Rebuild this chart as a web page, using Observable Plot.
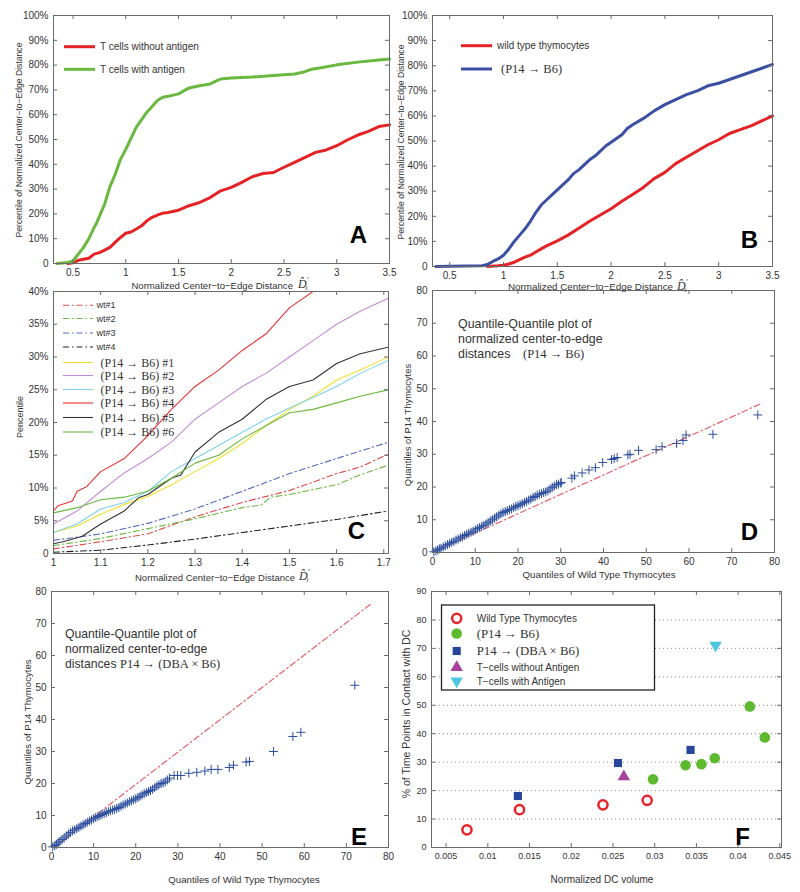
<!DOCTYPE html>
<html><head><meta charset="utf-8">
<script src="https://cdn.jsdelivr.net/npm/d3@7"></script>
<script src="https://cdn.jsdelivr.net/npm/@observablehq/plot@0.6"></script>
<style>
body{margin:0;background:#fff;}
#root{position:relative;width:800px;height:892px;overflow:hidden;background:#fff;}
#root svg{position:absolute;overflow:visible;background:transparent;}
</style></head><body><div id="root"></div>
<script>
// ---------- Panel A: cumulative curves ----------
const aWithout = [[0.45,0],[0.5,0.3],[0.55,1.3],[0.6,1.7],[0.65,2.1],[0.7,3.8],[0.75,4.4],[0.8,5.4],[0.85,6.5],[0.9,8.5],[0.95,10.5],[1.0,12.2],[1.05,12.7],[1.1,13.9],[1.15,15.2],[1.2,17.2],[1.25,18.6],[1.3,19.5],[1.35,20.3],[1.4,20.6],[1.5,21.5],[1.6,23.3],[1.7,24.6],[1.8,26.6],[1.9,29.3],[2.0,30.7],[2.1,32.7],[2.2,35],[2.3,36.3],[2.4,36.7],[2.5,38.8],[2.6,40.8],[2.7,42.8],[2.8,44.8],[2.9,45.8],[3.0,47.5],[3.1,49.8],[3.2,51.8],[3.3,53.3],[3.4,55.2],[3.5,55.9]];
const aWith = [[0.35,0],[0.45,0.4],[0.5,1],[0.55,3.8],[0.6,6.5],[0.65,10],[0.7,14.5],[0.72,16],[0.75,19],[0.8,24],[0.85,31],[0.9,36],[0.95,42],[1.0,46],[1.05,50.5],[1.1,55],[1.15,58],[1.2,61],[1.25,63.3],[1.3,65.7],[1.35,67],[1.4,67.4],[1.5,68.4],[1.6,70.8],[1.7,71.7],[1.8,72.4],[1.85,73.4],[1.9,74.4],[2.0,74.8],[2.2,75.2],[2.4,75.8],[2.6,76.4],[2.68,77.1],[2.75,78.2],[2.85,78.9],[3.0,80.1],[3.2,81.2],[3.4,82.1],[3.5,82.5]];
// ---------- Panel B ----------
const bWild = [[0.85,0],[0.95,0.3],[1.0,0.5],[1.05,1],[1.1,1.7],[1.15,2.7],[1.2,3.7],[1.25,4.5],[1.3,5.8],[1.35,7],[1.4,8.2],[1.5,10.2],[1.6,12.5],[1.7,15.2],[1.8,18],[1.9,20.5],[2.0,23],[2.1,26],[2.2,28.7],[2.3,31.5],[2.4,35],[2.5,37.5],[2.6,41],[2.7,43.5],[2.8,46],[2.9,48.5],[3.0,50.5],[3.1,53],[3.2,54.5],[3.3,56],[3.4,58],[3.5,60]];
const bP14 = [[0.37,0],[0.8,0.3],[0.85,0.8],[0.9,2],[0.95,3],[1.0,4.5],[1.05,7],[1.1,10],[1.15,12.5],[1.2,15],[1.25,18],[1.3,21.5],[1.35,24.5],[1.4,26.5],[1.45,28.5],[1.5,30.5],[1.55,32.5],[1.6,34.5],[1.65,37],[1.7,38.5],[1.75,40.5],[1.8,42.5],[1.85,44],[1.9,46],[1.95,48],[2.0,49.5],[2.05,51],[2.1,52.5],[2.15,55],[2.2,56.5],[2.3,59],[2.4,62],[2.5,64.5],[2.6,66.5],[2.7,68.5],[2.8,70],[2.9,72],[3.0,73],[3.1,74.5],[3.2,76],[3.3,77.5],[3.4,79],[3.5,80.5]];
// ---------- Panel C ----------
const cWt1 = [[1.0,0.7],[1.1,1.8],[1.2,3],[1.3,5.6],[1.4,7.8],[1.5,9.6],[1.6,12.2],[1.65,13.2],[1.71,15.2]];
const cWt2 = [[1.0,1.2],[1.1,2.3],[1.2,3.8],[1.3,5.3],[1.4,7],[1.44,7.4],[1.46,8.6],[1.5,9],[1.6,10.5],[1.65,12],[1.71,13.5]];
const cWt3 = [[1.0,2],[1.1,3],[1.2,4.6],[1.3,6.8],[1.4,9.5],[1.5,12.2],[1.6,14.5],[1.71,17]];
const cWt4 = [[1.0,0.2],[1.1,0.5],[1.2,1.3],[1.3,2.2],[1.4,3.2],[1.5,4.2],[1.6,5.2],[1.71,6.5]];
const cP1 = [[1.0,3.2],[1.05,4.2],[1.1,6],[1.15,7.5],[1.2,8.7],[1.25,10.5],[1.3,12.5],[1.35,14.5],[1.4,16.8],[1.45,19.5],[1.5,22],[1.55,24],[1.6,26.5],[1.65,28],[1.71,30]];
const cP2 = [[1.0,4.5],[1.05,6.5],[1.1,9.5],[1.15,12.3],[1.2,14.5],[1.25,17],[1.3,20.5],[1.35,23],[1.4,25.5],[1.45,27.5],[1.5,30],[1.55,32.5],[1.6,35],[1.65,37],[1.71,39]];
const cP3 = [[1.0,3.2],[1.05,4.5],[1.1,6.8],[1.15,7.8],[1.2,9.5],[1.25,12.5],[1.3,14.5],[1.35,16.5],[1.4,18.5],[1.45,20.5],[1.5,22.2],[1.55,23.8],[1.6,25.5],[1.65,27.5],[1.71,29.5]];
const cP4 = [[1.0,6.5],[1.01,7.3],[1.04,8],[1.05,9.5],[1.07,10.2],[1.1,12.5],[1.15,14.5],[1.2,18],[1.25,22],[1.3,25.5],[1.35,28],[1.4,31],[1.45,33.5],[1.5,37.5],[1.56,40.5]];
const cP5 = [[1.0,1.5],[1.02,1.8],[1.06,2.6],[1.1,4.5],[1.15,6.5],[1.18,8.5],[1.2,9],[1.25,11.5],[1.27,12],[1.3,15.5],[1.35,18.5],[1.4,20.5],[1.45,23.5],[1.5,25.5],[1.55,26.5],[1.6,29],[1.65,30.5],[1.71,31.5]];
const cP6 = [[1.0,6.2],[1.05,7],[1.1,8.2],[1.15,8.6],[1.2,9.5],[1.25,11.5],[1.3,13.8],[1.35,15],[1.4,17.5],[1.45,19.5],[1.5,21.5],[1.55,22],[1.6,23],[1.65,24],[1.71,25]];
// ---------- Panel D: QQ (P14 -> B6) ----------
const dX = [0.3,0.8,1.2,1.6,2,2.5,3,3.5,4,4.5,5,5.5,6,6.5,7,7.5,8,8.5,9,9.5,10,10.5,11,11.5,12,12.5,13,13.5,14,14.5,15,15.5,16,16.5,17,17.5,18,18.5,19,19.5,20,20.5,21,21.5,22,22.5,23,23.5,24,24.5,25,25.5,26,26.5,27,27.5,28,28.5,29,29.5,30,30.1,32.6,33.2,35,36.6,38.1,39.8,41.9,42.5,43.2,45.7,46.2,48.2,52.3,53.7,57.1,58.6,59.3,65.6,76.1];
const dY = [0.2,0.5,0.8,1.1,1.3,1.7,2,2.4,2.7,3.1,3.4,3.8,4.1,4.5,4.8,5.2,5.5,5.9,6.2,6.5,6.9,7.3,7.6,8,8.3,8.7,9.1,9.6,10,10.5,10.9,11.4,11.8,12.2,12.5,12.8,13.1,13.3,13.7,14.1,14.3,14.6,14.9,15.3,15.6,16,16.3,16.8,17.1,17.5,17.8,18,18.3,18.5,18.8,19.4,19.9,20.3,20.7,20.9,21.2,21.4,22.7,23.4,24.3,25.2,25.9,27.5,28.4,28.7,29,29.8,30,31.2,31.4,32.3,33.3,34.2,35.9,36.1,42];
const dRef = [[0.5,0.3],[77.1,45.6]];
// ---------- Panel E: QQ P14 -> (DBA x B6) ----------
const eX = [0.3,0.8,1.2,1.6,2,2.5,3,3.5,4,4.5,5,5.5,6,6.5,7,7.5,8,8.5,9,9.5,10,10.5,11,11.5,12,12.5,13,13.5,14,14.5,15,15.5,16,16.5,17,17.5,18,18.5,19,19.5,20,20.5,21,21.5,22,22.5,23,23.5,24,24.5,25,25.5,26,26.5,27,27.5,28,29.1,29.9,30.7,32.6,34.5,36.4,37.9,39.5,42.2,43.2,46.2,47,52.7,57.3,59.2,72];
const eY = [0.2,0.6,1,1.5,2,2.5,3,3.6,4.2,4.7,5.2,5.5,5.9,6.3,6.7,7.1,7.5,7.9,8.3,8.6,9,9.4,9.7,10,10.3,10.6,10.9,11.2,11.5,11.7,11.9,12.2,12.5,12.9,13.3,13.6,13.9,14.3,14.6,14.9,15.2,15.6,16,16.4,16.8,17.2,17.5,17.8,18.2,18.7,19.2,19.6,20,20.2,20.5,21.1,21.7,22.5,22.5,22.5,23.2,23.5,23.9,24.4,24.4,25,25.7,26.7,26.9,30,34.7,36,50.7];
const eRef = [[0.8,0.3],[76.2,76.5]];
// ---------- Panel F: contact vs DC volume ----------
const fWild = [[0.0075,6.2],[0.0138,13.3],[0.0238,15],[0.0291,16.6]];
const fP14B6 = [[0.0298,24],[0.0337,28.9],[0.0356,29.3],[0.0372,31.4],[0.0414,49.6],[0.0432,38.7]];
const fP14DBA = [[0.0136,18.1],[0.0256,29.7],[0.0343,34.3]];
const fTnoAg = [[0.0263,24.9]];
const fTAg = [[0.0373,71.1]];
// ---------- ticks ----------
const ticksAB_x = [0.5,1,1.5,2,2.5,3,3.5];
const ticksAB_y = [0,10,20,30,40,50,60,70,80,90,100];
const ticksC_x = [1,1.1,1.2,1.3,1.4,1.5,1.6,1.7];
const ticksC_y = [0,5,10,15,20,25,30,35,40];
const ticksQQ = [0,10,20,30,40,50,60,70,80];
const ticksF_x = [0.005,0.01,0.015,0.02,0.025,0.03,0.035,0.04,0.045];
const ticksF_y = [0,10,20,30,40,50,60,70,80,90];
const gridF_y = [10,20,30,40,50,60,70,80];

const SANS = "'Liberation Sans', Arial, sans-serif";
const SERIF = "'Liberation Serif', 'Times New Roman', serif";
const FRAME = "#6a6a6a";
const TXT = "#333";
const pct = d => d === 0 ? "0" : d + "%";
const str = d => String(d);
const XY = {x: d => d[0], y: d => d[1]};
const DASHDOT = "6,3,1.5,3";
const root = document.getElementById("root");

function panel(o) {
  const fw = o.width - o.mL - o.mR, fh = o.height - o.mT - o.mB, L = 4;
  const svg = Plot.plot({
    width: o.width, height: o.height,
    marginLeft: o.mL, marginRight: o.mR, marginTop: o.mT, marginBottom: o.mB,
    style: {fontFamily: SANS, fontSize: (o.fs || 10) + "px", color: TXT, background: "transparent", overflow: "visible"},
    x: {domain: o.xd}, y: {domain: o.yd},
    marks: [
      ...o.marks,
      Plot.frame({stroke: FRAME}),
      Plot.ruleX(o.xt, {insetTop: fh - L, stroke: FRAME}),
      Plot.ruleX(o.xt, {insetBottom: fh - L, stroke: FRAME}),
      Plot.ruleY(o.yt, {insetRight: fw - L, stroke: FRAME}),
      Plot.ruleY(o.yt, {insetLeft: fw - L, stroke: FRAME}),
      Plot.axisX(o.xt, {tickSize: 0, tickPadding: 5, tickFormat: o.xf, label: null, fill: TXT}),
      Plot.axisY(o.yt, {tickSize: 0, tickPadding: 5, tickFormat: o.yf, label: null, fill: TXT})
    ]
  });
  svg.style.left = o.left + "px";
  svg.style.top = o.top + "px";
  root.appendChild(svg);
}

// A
panel({left: 0, top: 0, width: 400, height: 290, mL: 53, mR: 11, mT: 15, mB: 27,
  xd: [0.315, 3.5], yd: [0, 100], xt: ticksAB_x, yt: ticksAB_y, xf: str, yf: pct,
  marks: [
    Plot.line(aWithout, {...XY, stroke: "#e52226", strokeWidth: 3}),
    Plot.line(aWith, {...XY, stroke: "#6ab83f", strokeWidth: 3})
  ]});
// B
panel({left: 400, top: 0, width: 400, height: 290, mL: 32, mR: 28, mT: 15, mB: 24,
  xd: [0.34, 3.5], yd: [0, 100], xt: ticksAB_x, yt: ticksAB_y, xf: str, yf: pct,
  marks: [
    Plot.line(bWild, {...XY, stroke: "#e52226", strokeWidth: 3}),
    Plot.line(bP14, {...XY, stroke: "#3b4fa3", strokeWidth: 3})
  ]});
// C
const cSeries = [
  [cWt1, "#e04848", DASHDOT], [cWt2, "#6ab83f", DASHDOT], [cWt3, "#5568c0", DASHDOT], [cWt4, "#222", DASHDOT],
  [cP1, "#f2e030", null], [cP2, "#c58ad6", null], [cP3, "#7fd3ea", null], [cP4, "#ea3030", null], [cP5, "#333", null], [cP6, "#6ab83f", null]
];
panel({left: 0, top: 290, width: 400, height: 300, mL: 53, mR: 12, mT: 1, mB: 37,
  xd: [1, 1.71], yd: [0, 40], xt: ticksC_x, yt: ticksC_y, xf: str, yf: pct,
  marks: cSeries.map(([d, c, dash]) => Plot.line(d, {...XY, stroke: c, strokeWidth: 1.1, strokeDasharray: dash, clip: true}))
});
// D
panel({left: 400, top: 290, width: 400, height: 300, mL: 32, mR: 26, mT: 0, mB: 38,
  xd: [0, 80], yd: [0, 80], xt: ticksQQ, yt: ticksQQ, xf: str, yf: str,
  marks: [
    Plot.line(dRef, {...XY, stroke: "#e8606a", strokeWidth: 1.2, strokeDasharray: DASHDOT}),
    Plot.dot(dX, {x: d => d, y: (d, i) => dY[i], symbol: "plus", r: 3, stroke: "#2d4f9e", strokeWidth: 1})
  ]});
// E
panel({left: 0, top: 590, width: 400, height: 302, mL: 51, mR: 12, mT: 1, mB: 45,
  xd: [0, 80], yd: [0, 80], xt: ticksQQ, yt: ticksQQ, xf: str, yf: str,
  marks: [
    Plot.line(eRef, {...XY, stroke: "#e8606a", strokeWidth: 1.2, strokeDasharray: DASHDOT}),
    Plot.dot(eX, {x: d => d, y: (d, i) => eY[i], symbol: "plus", r: 3, stroke: "#2d4f9e", strokeWidth: 1})
  ]});
// F
const triDown = {draw(ctx, size) {
  const s3 = Math.sqrt(3), y = -Math.sqrt(size / (s3 * 3));
  ctx.moveTo(0, -y * 2); ctx.lineTo(-s3 * y, y); ctx.lineTo(s3 * y, y); ctx.closePath();
}};
panel({left: 400, top: 590, width: 400, height: 302, mL: 31, mR: 19, mT: 1, mB: 45, fs: 9,
  xd: [0.00325, 0.0452], yd: [0, 90], xt: ticksF_x, yt: ticksF_y, xf: str, yf: str,
  marks: [
    Plot.gridY(gridF_y, {stroke: "#888", strokeOpacity: 1, strokeDasharray: "1,3"}),
    Plot.dot(fWild, {...XY, symbol: "circle", r: 4.6, fill: "none", stroke: "#e8242b", strokeWidth: 2.5}),
    Plot.dot(fP14B6, {...XY, symbol: "circle", r: 5.3, fill: "#5dba2f", stroke: "none"}),
    Plot.dot(fP14DBA, {...XY, symbol: "square", r: 4.6, fill: "#27469b", stroke: "none"}),
    Plot.dot(fTnoAg, {...XY, symbol: "triangle", r: 4.6, fill: "#a8419b", stroke: "none"}),
    Plot.dot(fTAg, {...XY, symbol: triDown, r: 4.6, fill: "#4ec7de", stroke: "none"})
  ]});

// ---------- overlay: titles, labels, legends ----------
const ov = d3.select(root).append("svg").attr("width", 800).attr("height", 892)
  .style("left", "0px").style("top", "0px").style("pointer-events", "none");
function txt(x, y, s, o = {}) {
  const t = ov.append("text").attr("x", x).attr("y", y)
    .attr("font-family", o.family || SANS).attr("font-size", o.size || 10)
    .attr("fill", o.fill || TXT).attr("text-anchor", o.anchor || "middle")
    .attr("dominant-baseline", o.baseline || "central").text(s);
  if (o.weight) t.attr("font-weight", o.weight);
  if (o.rotate) t.attr("transform", `rotate(${o.rotate},${x},${y})`);
  return t;
}
function dhat(x, y) {
  const t = ov.append("text").attr("x", x).attr("y", y).attr("dominant-baseline", "central")
    .attr("font-family", SERIF).attr("font-style", "italic").attr("font-size", 12).attr("fill", TXT);
  t.append("tspan").text("D\u0302");
  t.append("tspan").attr("font-size", 8).attr("dy", -4).text("\u2032");
  t.append("tspan").attr("font-size", 7).attr("dx", -3).attr("dy", 8).text("i");
}
function seg(x1, x2, y, c, w, dash) {
  const l = ov.append("line").attr("x1", x1).attr("x2", x2).attr("y1", y).attr("y2", y)
    .attr("stroke", c).attr("stroke-width", w);
  if (dash) l.attr("stroke-dasharray", dash);
}
// Axis labels
txt(19, 140, "Percentile of Normalized Center\u2212to\u2212Edge Distance", {size: 8.6, rotate: -90});
txt(293, 285, "Normalized Center\u2212to\u2212Edge Distance", {size: 9.6, anchor: "end"});
dhat(298, 284);
txt(401, 142, "Percentile of Normalized Center\u2212to\u2212Edge Distance", {size: 8.6, rotate: -90});
txt(673, 286.5, "Normalized Center\u2212to\u2212Edge Distance", {size: 9.8, anchor: "end"});
dhat(677, 285.5);
txt(20, 417, "Pencentile", {size: 9, rotate: -90});
txt(295, 577, "Normalized Center\u2212to\u2212Edge Distance", {size: 9.5, anchor: "end"});
dhat(299, 576);
txt(407, 425, "Quantiles of P14 Thymocytes", {size: 9.4, rotate: -90});
txt(599, 574, "Quantiles of Wild Type Thymocytes", {size: 9.8});
txt(27, 722, "Quantiles of P14 Thymocytes", {size: 9.6, rotate: -90});
txt(244, 879, "Quantiles of Wild Type Thymocytes", {size: 9.7});
txt(406, 714, "% of Time Points in Contact with DC", {size: 10.5, rotate: -90});
txt(602, 879, "Normalized DC volume", {size: 10});
// Panel letters
const letters = [["A", 367, 243], ["B", 758, 248], ["C", 365, 539], ["D", 758, 540], ["E", 367, 845], ["F", 750, 845]];
letters.forEach(([s, x, y]) => txt(x, y, s, {size: 24, weight: "bold", anchor: "end", baseline: "auto", fill: "#000"}));
// Legend A
seg(64, 95, 46.7, "#e52226", 3); txt(100, 46.7, "T cells without antigen", {anchor: "start", size: 10});
seg(64, 95, 69.3, "#6ab83f", 3); txt(100, 69.3, "T cells with antigen", {anchor: "start", size: 10});
// Legend B
seg(461, 492, 45.7, "#e52226", 3); txt(497, 45.7, "wild type thymocytes", {anchor: "start", size: 10});
seg(461, 492, 69, "#3b4fa3", 3); txt(501, 69, "(P14 \u2192 B6)", {anchor: "start", size: 12.5, family: SERIF});
// Legend C
const cLabels = ["wt#1", "wt#2", "wt#3", "wt#4", "(P14 \u2192 B6) #1", "(P14 \u2192 B6) #2", "(P14 \u2192 B6) #3", "(P14 \u2192 B6) #4", "(P14 \u2192 B6) #5", "(P14 \u2192 B6) #6"];
const cLegY = [305.3, 318.5, 333, 347, 362.5, 375.5, 389.5, 403, 417.5, 432];
cSeries.forEach(([d, c, dash], i) => {
  seg(63, 93, cLegY[i], c, 1.1, dash);
  if (i < 4) txt(96.5, cLegY[i], cLabels[i], {anchor: "start", size: 9});
  else txt(100.5, cLegY[i], cLabels[i], {anchor: "start", size: 12, family: SERIF});
});
// Annotations D, E
txt(458, 324, "Quantile-Quantile plot of", {anchor: "start", size: 12.4});
txt(458, 339, "normalized center-to-edge", {anchor: "start", size: 12.4});
txt(458, 354, "distances", {anchor: "start", size: 12.4});
txt(523, 354, "(P14 \u2192 B6)", {anchor: "start", size: 12.5, family: SERIF});
txt(65, 634, "Quantile-Quantile plot of", {anchor: "start", size: 12.2});
txt(65, 649, "normalized center-to-edge", {anchor: "start", size: 12.2});
txt(65, 664, "distances", {anchor: "start", size: 12.2});
txt(120, 664, "P14 \u2192 (DBA \u00d7 B6)", {anchor: "start", size: 12.5, family: SERIF});
// Legend F
ov.append("rect").attr("x", 441.5).attr("y", 605).attr("width", 213).attr("height", 85)
  .attr("fill", "#fff").attr("stroke", "#222").attr("stroke-width", 1.3);
const fLegY = [618.3, 633.5, 651, 667.5, 681];
const sym = (type, size) => d3.symbol(type, size)();
ov.append("circle").attr("cx", 456.7).attr("cy", fLegY[0]).attr("r", 4.6).attr("fill", "none").attr("stroke", "#e8242b").attr("stroke-width", 2.5);
ov.append("circle").attr("cx", 456.7).attr("cy", fLegY[1]).attr("r", 5.3).attr("fill", "#5dba2f");
ov.append("path").attr("d", sym(d3.symbolSquare, Math.PI * 4.6 * 4.6)).attr("transform", `translate(456.7,${fLegY[2]})`).attr("fill", "#27469b");
ov.append("path").attr("d", sym(d3.symbolTriangle, Math.PI * 4.6 * 4.6)).attr("transform", `translate(456.7,${fLegY[3]})`).attr("fill", "#a8419b");
ov.append("path").attr("d", sym(triDown, Math.PI * 4.6 * 4.6)).attr("transform", `translate(456.7,${fLegY[4]})`).attr("fill", "#4ec7de");
txt(476.7, fLegY[0], "Wild Type Thymocytes", {anchor: "start", size: 10});
txt(476.7, fLegY[1], "(P14 \u2192 B6)", {anchor: "start", size: 12.8, family: SERIF});
txt(476.7, fLegY[2], "P14 \u2192 (DBA \u00d7 B6)", {anchor: "start", size: 12.8, family: SERIF});
txt(476.7, fLegY[3], "T\u2212cells without Antigen", {anchor: "start", size: 10});
txt(476.7, fLegY[4], "T\u2212cells with Antigen", {anchor: "start", size: 10});
</script></body></html>
